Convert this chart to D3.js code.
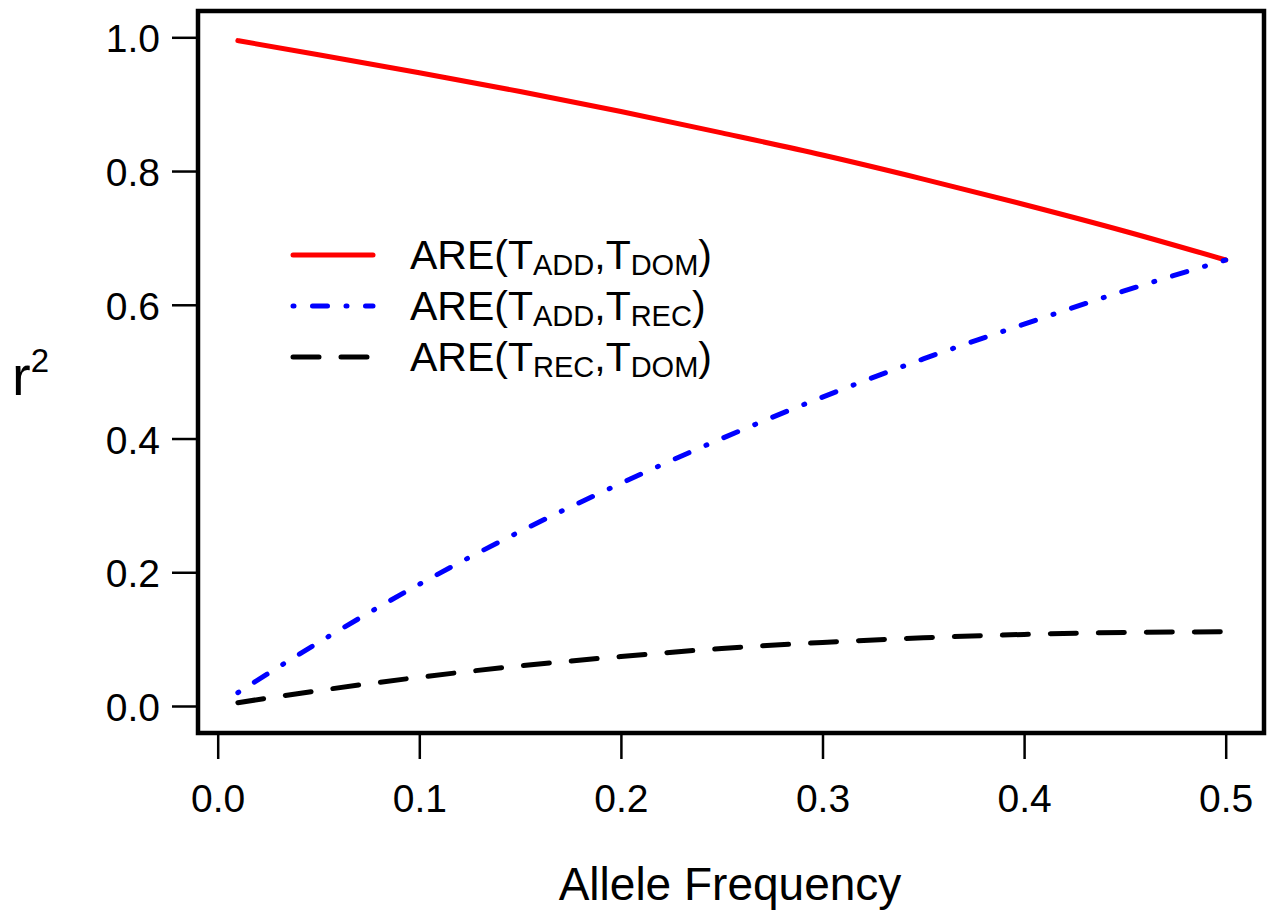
<!DOCTYPE html>
<html>
<head>
<meta charset="utf-8">
<script src="https://cdn.jsdelivr.net/npm/d3@7"></script>
<style>
  html, body { margin: 0; padding: 0; background: #fff; }
  svg { display: block; }
  text { font-family: "Liberation Sans", Arial, sans-serif; fill: #000; }
</style>
</head>
<body>
<script>
// Allele frequency grid and r^2 (asymptotic relative efficiency) for each pair of tests
const alleleFreq = [0.01, 0.05, 0.10, 0.15, 0.20, 0.25, 0.30, 0.35, 0.40, 0.45, 0.50];
const areAddDom  = [0.995, 0.974, 0.947, 0.919, 0.889, 0.857, 0.824, 0.788, 0.750, 0.710, 0.667];
const areAddRec  = [0.020, 0.095, 0.182, 0.261, 0.333, 0.400, 0.462, 0.519, 0.571, 0.621, 0.667];
const areRecDom  = [0.005, 0.023, 0.043, 0.060, 0.074, 0.086, 0.095, 0.102, 0.107, 0.110, 0.111];

const xTicks = [0.0, 0.1, 0.2, 0.3, 0.4, 0.5];
const yTicks = [0.0, 0.2, 0.4, 0.6, 0.8, 1.0];

const seriesNames = [
  { a: "ADD", b: "DOM" },
  { a: "ADD", b: "REC" },
  { a: "REC", b: "DOM" }
];
const seriesValues = [areAddDom, areAddRec, areRecDom];
const seriesColors = ["#ff0000", "#0000ff", "#000000"];
const seriesDash   = [null, "1,18.5,15,18.5", "26,22"];

const W = 1274, H = 914;
const box = { left: 198, right: 1264, top: 11, bottom: 733 };

const svg = d3.select("body").append("svg")
  .attr("width", W).attr("height", H);

const x = d3.scaleLinear().domain([0, 0.5]).range([217.7, 1225.7]);
const y = d3.scaleLinear().domain([0, 1]).range([706, 37.3]);

// Curves
const line = d3.line()
  .x(d => x(d[0]))
  .y(d => y(d[1]))
  .curve(d3.curveMonotoneX);

seriesValues.forEach((vals, i) => {
  svg.append("path")
    .datum(alleleFreq.map((f, j) => [f, vals[j]]))
    .attr("d", line)
    .attr("fill", "none")
    .attr("stroke", seriesColors[i])
    .attr("stroke-width", 5)
    .attr("stroke-linecap", "round")
    .attr("stroke-linejoin", "round")
    .attr("stroke-dasharray", seriesDash[i]);
});

// Plot frame
svg.append("rect")
  .attr("x", box.left).attr("y", box.top)
  .attr("width", box.right - box.left).attr("height", box.bottom - box.top)
  .attr("fill", "none").attr("stroke", "#000").attr("stroke-width", 4.5);

// X axis
const xAxis = d3.axisBottom(x)
  .tickValues(xTicks)
  .tickFormat(d3.format(".1f"))
  .tickSize(24)
  .tickPadding(30);
const gx = svg.append("g")
  .attr("transform", `translate(0,${box.bottom + 2})`)
  .call(xAxis);
gx.select(".domain").remove();
gx.selectAll(".tick line").attr("stroke", "#000").attr("stroke-width", 2.5);
gx.selectAll(".tick text")
  .attr("font-size", 39)
  .attr("font-family", "Liberation Sans, Arial, sans-serif")
  .attr("fill", "#000")
  .attr("dy", null)
  .attr("y", 77);

// Y axis
const yAxis = d3.axisLeft(y)
  .tickValues(yTicks)
  .tickFormat(d3.format(".1f"))
  .tickSize(24)
  .tickPadding(12);
const gy = svg.append("g")
  .attr("transform", `translate(${box.left - 2},0)`)
  .call(yAxis);
gy.select(".domain").remove();
gy.selectAll(".tick line").attr("stroke", "#000").attr("stroke-width", 2.5);
gy.selectAll(".tick text")
  .attr("font-size", 39)
  .attr("font-family", "Liberation Sans, Arial, sans-serif")
  .attr("fill", "#000")
  .attr("dy", null)
  .attr("y", 14.5)
  .attr("x", -36);

// Axis titles
svg.append("text")
  .attr("x", 730).attr("y", 900)
  .attr("text-anchor", "middle")
  .attr("font-size", 46)
  .text("Allele Frequency");

const yTitle = svg.append("text")
  .attr("x", 12).attr("y", 395);
yTitle.append("tspan").attr("font-size", 56).text("r");
yTitle.append("tspan").attr("font-size", 33).attr("dy", -23).text("2");

// Legend
const legendX0 = 293, legendX1 = 373, textX = 410;
const legendY = [255, 306, 357];
seriesNames.forEach((s, i) => {
  const ly = legendY[i];
  svg.append("line")
    .attr("x1", legendX0).attr("x2", legendX1)
    .attr("y1", ly).attr("y2", ly)
    .attr("stroke", seriesColors[i])
    .attr("stroke-width", 5)
    .attr("stroke-linecap", "round")
    .attr("stroke-dasharray", seriesDash[i]);

  const t = svg.append("text")
    .attr("x", textX).attr("y", ly + 14)
    .attr("font-size", 41);
  t.append("tspan").text("ARE(T");
  t.append("tspan").attr("font-size", 29).attr("dy", 6).text(s.a);
  t.append("tspan").attr("dy", -6).text(",T");
  t.append("tspan").attr("font-size", 29).attr("dy", 6).text(s.b);
  t.append("tspan").attr("dy", -6).text(")");
});
</script>
</body>
</html>
